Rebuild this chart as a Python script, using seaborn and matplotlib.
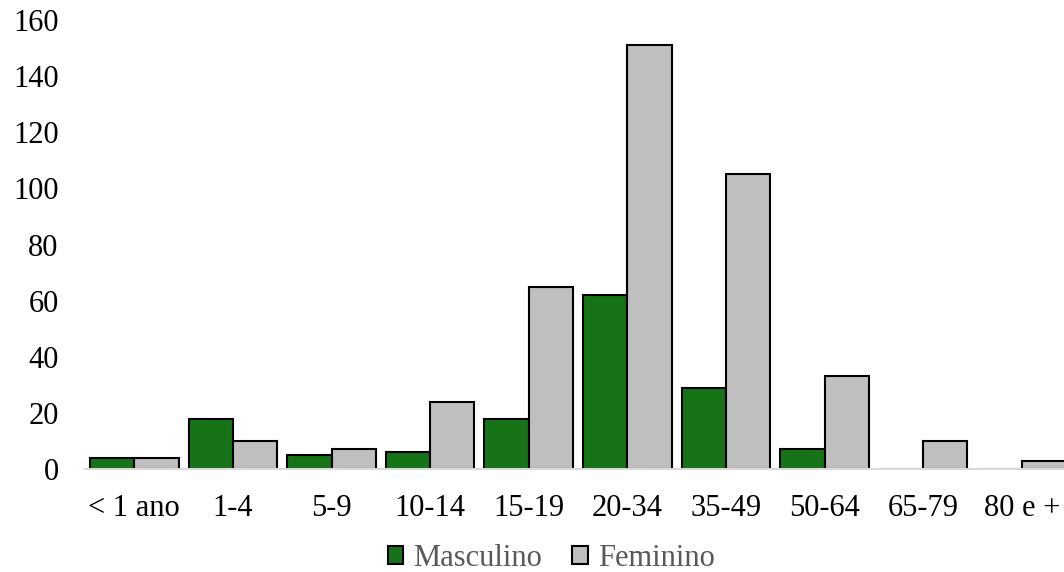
import matplotlib
matplotlib.use('Agg')
import matplotlib.pyplot as plt
import seaborn as sns
import pandas as pd

faixas = ['< 1 ano', '1-4', '5-9', '10-14', '15-19', '20-34', '35-49', '50-64', '65-79', '80 e +']
masculino = [4, 18, 5, 6, 18, 62, 29, 7, 0, 0]
feminino = [4, 10, 7, 24, 65, 151, 105, 33, 10, 3]

df = pd.DataFrame({
    'faixa': faixas * 2,
    'valor': masculino + feminino,
    'sexo': ['Masculino'] * len(faixas) + ['Feminino'] * len(faixas),
})

sns.set_style('white')
plt.rcParams['font.family'] = ['Liberation Serif', 'DejaVu Serif']

fig = plt.figure(figsize=(10.64, 5.72), dpi=100)
ax = fig.add_axes([0.0799, 0.180, 0.9267, 0.785])

sns.barplot(data=df, x='faixa', y='valor', hue='sexo', order=faixas,
            hue_order=['Masculino', 'Feminino'],
            palette={'Masculino': '#177317', 'Feminino': '#bfbfbf'},
            saturation=1, width=0.9, edgecolor='black', linewidth=1.5, ax=ax)

ax.set_ylim(0, 160)
ax.set_yticks(range(0, 161, 20))
ax.set_xlabel('')
ax.set_ylabel('')
ax.tick_params(axis='both', length=0, labelsize=22, colors='black')
ax.tick_params(axis='x', pad=18)
ax.tick_params(axis='y', pad=19)
for s in ['top', 'right', 'left']:
    ax.spines[s].set_visible(False)
ax.spines['bottom'].set_color('#d9d9d9')
ax.spines['bottom'].set_linewidth(1.5)

ax.legend_.remove()
handles, labels = ax.get_legend_handles_labels()
leg = fig.legend(handles, labels, loc='center', bbox_to_anchor=(0.518, 0.024),
                 ncol=2, frameon=False, fontsize=22, handlelength=0.5,
                 handleheight=0.5, handletextpad=0.33, columnspacing=1.0)
for t in leg.get_texts():
    t.set_color('#595959')

fig.savefig('out.png', dpi=100)
